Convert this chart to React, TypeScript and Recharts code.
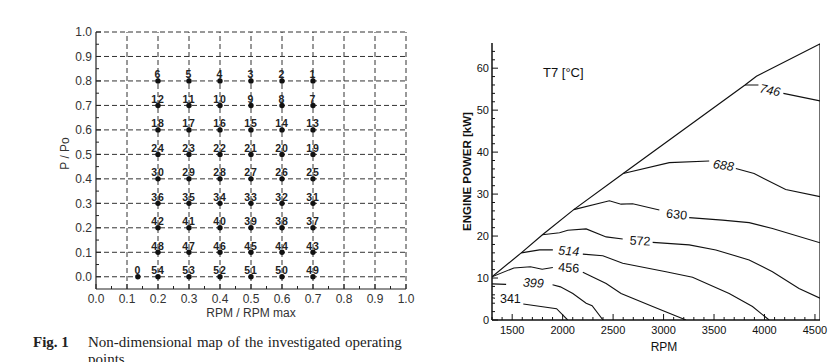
import React from "react";
import {
  ScatterChart,
  Scatter,
  ComposedChart,
  Line,
  XAxis,
  YAxis,
  ReferenceLine,
} from "recharts";

const sans = "'Liberation Sans', Arial, Helvetica, sans-serif";
const serif = "'Liberation Serif', 'Times New Roman', serif";

// ---------- Fig. 1 : non-dimensional map of operating points ----------
const speedRatio = [0.2, 0.3, 0.4, 0.5, 0.6, 0.7];
const powerRatio = [0.8, 0.7, 0.6, 0.5, 0.4, 0.3, 0.2, 0.1, 0.0];
// point numbers, one row per powerRatio, columns follow speedRatio
const pointNumbers = [
  [6, 5, 4, 3, 2, 1],
  [12, 11, 10, 9, 8, 7],
  [18, 17, 16, 15, 14, 13],
  [24, 23, 22, 21, 20, 19],
  [30, 29, 28, 27, 26, 25],
  [36, 35, 34, 33, 32, 31],
  [42, 41, 40, 39, 38, 37],
  [48, 47, 46, 45, 44, 43],
  [54, 53, 52, 51, 50, 49],
];
const idlePoint = { x: 0.135, y: 0.0, n: 0 };
const mapTicks = [0, 0.1, 0.2, 0.3, 0.4, 0.5, 0.6, 0.7, 0.8, 0.9, 1.0];

// ---------- T7 map ----------
const rpmTicks = [1500, 2000, 2500, 3000, 3500, 4000, 4500];
const powerTicks = [0, 10, 20, 30, 40, 50, 60];

// full-load envelope [rpm, kW]
const envelope = [
  [1300, 10.3], [1590, 16.0], [1800, 20.3], [2110, 26.3], [2600, 34.9],
  [3807, 56.0], [3920, 58.1], [4550, 65.8], [4550, 0],
];
// iso-T7 contours [rpm, kW]; null = gap where the level label sits
const t341 = [[1300, 5.3], [1330, 5.2], null, [1610, 3.8], [1940, 2.7], [2050, 0]];
const t399 = [[1300, 8.6], [1440, 8.5], null, [1900, 8.4], [1978, 7.9], [2101, 6.3], [2233, 4.0], [2292, 3.4], [2400, 0]];
const t456 = [[1300, 10.3], [1517, 12.4], [1681, 12.7], [1797, 12.1], [1903, 12.5], null, [2200, 11.4], [2431, 8.7], [2579, 6.3], [2892, 3.2], [3222, 0]];
const t514 = [[1590, 16.0], [1771, 16.7], [1903, 16.7], null, [2200, 15.7], [2398, 15.3], [2595, 13.5], [3024, 11.5], [3287, 10.2], [3650, 6.3], [3881, 3.2], [4046, 0]];
const t572 = [[1800, 20.3], [1969, 20.8], [2051, 21.4], [2233, 21.7], [2431, 19.8], [2595, 19.3], null, [2892, 18.5], [3254, 17.9], [3518, 16.7], [3848, 14.3], [4079, 11.5], [4342, 7.5], [4550, 5.2]];
const t630 = [[2110, 26.3], [2463, 28.4], [2579, 27.6], [2694, 27.7], [2958, 26.2], null, [3254, 24.4], [3584, 23.8], [3848, 23.2], [4079, 21.8], [4550, 18.4]];
const t688 = [[2600, 34.9], [3057, 37.5], [3452, 37.9], null, [3716, 36.1], [3897, 34.9], [4210, 31.1], [4550, 29.4]];
const t746 = [[3807, 56.0], [3940, 56.0], null, [4187, 54.0], [4550, 52.2]];

const contours = [t341, t399, t456, t514, t572, t630, t688, t746];
const levels = [341, 399, 456, 514, 572, 630, 688, 746];
const labelRpm = [1482, 1710, 2061, 2061, 2767, 3130, 3593, 4055];
const labelPower = [5.2, 8.9, 12.5, 16.5, 18.9, 25.2, 36.9, 54.8];
const labelAngle = [0, 4, 4, 4, 3, 6, 9, 12];
const labelItalic = [false, true, false, true, false, false, true, true];

const toRows = (pts: (number[] | null)[]) =>
  pts.map((p, i) => {
    if (p) return { rpm: p[0], p: p[1] };
    const a = pts[i - 1] as number[];
    const b = pts[i + 1] as number[];
    return { rpm: (a[0] + b[0]) / 2, p: null };
  });

const isMajor = (v: number, step: number) =>
  Math.abs(v / step - Math.round(v / step)) < 1e-6;

const minorTicks = (from: number, to: number, step: number) =>
  Array.from({ length: Math.round((to - from) / step) + 1 }, (_, i) =>
    Number((from + i * step).toFixed(4))
  );

// ticks are drawn inward, labels outside
const mapXTick = ({ x, y, payload }: any) => {
  const v = payload.value;
  const major = isMajor(v, 0.1);
  return (
    <g>
      <line x1={x} x2={x} y1={y} y2={y - (major ? 5 : 3)} stroke="#222" />
      {major && (
        <text x={x} y={y + 14} textAnchor="middle" fontSize={12} fill="#333" fontFamily={sans}>
          {v.toFixed(1)}
        </text>
      )}
    </g>
  );
};

const mapYTick = ({ x, y, payload }: any) => {
  const v = payload.value;
  const major = isMajor(v, 0.1);
  return (
    <g>
      <line x1={x} x2={x + (major ? 5 : 3)} y1={y} y2={y} stroke="#222" />
      {major && (
        <text x={x - 4} y={y} dy="0.36em" textAnchor="end" fontSize={12} fill="#333" fontFamily={sans}>
          {v.toFixed(1)}
        </text>
      )}
    </g>
  );
};

const rpmTick = ({ x, y, payload }: any) => {
  const v = payload.value;
  const major = rpmTicks.includes(v);
  return (
    <g>
      <line x1={x} x2={x} y1={y} y2={y - (major ? 6 : 3)} stroke="#111" />
      {major && (
        <text x={x} y={y + 13.5} textAnchor="middle" fontSize={11} fill="#111" fontFamily={sans}>
          {v}
        </text>
      )}
    </g>
  );
};

const powerTick = ({ x, y, payload }: any) => {
  const v = payload.value;
  const major = powerTicks.includes(v);
  return (
    <g>
      <line x1={x} x2={x + (major ? 6 : 3)} y1={y} y2={y} stroke="#111" />
      {major && (
        <text x={x - 3} y={y} dy="0.36em" textAnchor="end" fontSize={11} fill="#111" fontFamily={sans}>
          {v}
        </text>
      )}
    </g>
  );
};

const OperatingPoint = (props: any) => {
  const { cx, cy, payload } = props;
  return (
    <g>
      <circle cx={cx} cy={cy} r={2.7} fill="#111" />
      <text
        x={cx}
        y={cy - 2.5}
        textAnchor="middle"
        fontSize={10.5}
        fontWeight="bold"
        letterSpacing={1}
        fill="#222"
        fontFamily={sans}
      >
        {payload.n}
      </text>
    </g>
  );
};

const LevelLabel = (props: any) => {
  const { cx, cy, index } = props;
  return (
    <text
      x={cx}
      y={cy}
      dy="0.36em"
      textAnchor="middle"
      fontSize={12.5}
      fontStyle={labelItalic[index] ? "italic" : "normal"}
      fill="#111"
      fontFamily={sans}
      transform={`rotate(${labelAngle[index]}, ${cx}, ${cy})`}
    >
      {levels[index]}
    </text>
  );
};

const App: React.FC = () => {
  const points = powerRatio
    .flatMap((y, r) => speedRatio.map((x, c) => ({ x, y, n: pointNumbers[r][c] })))
    .concat([idlePoint]);

  const labelRows = levels.map((lv, i) => ({ rpm: labelRpm[i], p: labelPower[i], level: lv }));

  return (
    <div
      style={{
        position: "absolute",
        left: 0,
        top: 0,
        width: 833,
        height: 362,
        overflow: "hidden",
        background: "#fff",
      }}
    >
      <div style={{ position: "absolute", left: 0, top: 0 }}>
        <ScatterChart width={420} height={330} margin={{ top: 32, right: 14, bottom: 11, left: 0 }}>
          <XAxis
            type="number"
            dataKey="x"
            domain={[0, 1]}
            ticks={minorTicks(0, 1, 0.05)}
            interval={0}
            tickSize={0}
            tickMargin={0}
            tickLine={false}
            tick={mapXTick}
            height={30}
            axisLine={{ stroke: "#222", strokeWidth: 1.2 }}
            allowDataOverflow
            label={{
              content: ({ viewBox }: any) => (
                <text
                  x={viewBox.x + viewBox.width / 2}
                  y={viewBox.y + 28}
                  textAnchor="middle"
                  fontSize={12}
                  fill="#333"
                  fontFamily={sans}
                >
                  RPM / RPM max
                </text>
              ),
            }}
          />
          <YAxis
            type="number"
            dataKey="y"
            domain={[-0.05, 1]}
            ticks={minorTicks(0, 1, 0.05)}
            interval={0}
            tickSize={0}
            tickMargin={0}
            tickLine={false}
            tick={mapYTick}
            width={96}
            axisLine={{ stroke: "#222", strokeWidth: 1.2 }}
            allowDataOverflow
            label={{
              content: ({ viewBox }: any) => {
                const lx = viewBox.x + 65;
                const ly = viewBox.y + viewBox.height / 2 - 7;
                return (
                  <text
                    x={lx}
                    y={ly}
                    dy="0.36em"
                    textAnchor="middle"
                    fontSize={12}
                    fill="#333"
                    fontFamily={sans}
                    transform={`rotate(-90, ${lx}, ${ly})`}
                  >
                    P / Po
                  </text>
                );
              },
            }}
          />
          {mapTicks.map((v) => (
            <ReferenceLine key={`h${v}`} y={v} stroke="#333" strokeDasharray="5 3" />
          ))}
          {mapTicks.slice(1).map((v) => (
            <ReferenceLine key={`v${v}`} x={v} stroke="#333" strokeDasharray="5 3" />
          ))}
          <Scatter data={points} shape={OperatingPoint} isAnimationActive={false} />
        </ScatterChart>
      </div>

      <div style={{ position: "absolute", left: 440, top: 0 }}>
        <ComposedChart width={393} height={362} margin={{ top: 43, right: 13, bottom: 12, left: 0 }}>
          <XAxis
            type="number"
            dataKey="rpm"
            domain={[1300, 4550]}
            ticks={minorTicks(1300, 4500, 100)}
            interval={0}
            tickSize={0}
            tickMargin={0}
            tickLine={false}
            tick={rpmTick}
            height={30}
            axisLine={{ stroke: "#111", strokeWidth: 1.5 }}
            allowDataOverflow
            label={{
              content: ({ viewBox }: any) => (
                <text
                  x={viewBox.x + viewBox.width / 2 + 8}
                  y={viewBox.y + 31}
                  textAnchor="middle"
                  fontSize={12}
                  fill="#111"
                  fontFamily={sans}
                >
                  RPM
                </text>
              ),
            }}
          />
          <YAxis
            type="number"
            dataKey="p"
            domain={[0, 66]}
            ticks={minorTicks(0, 64, 2)}
            interval={0}
            tickSize={0}
            tickMargin={0}
            tickLine={false}
            tick={powerTick}
            width={52}
            axisLine={{ stroke: "#111", strokeWidth: 1.5 }}
            allowDataOverflow
            label={{
              content: ({ viewBox }: any) => {
                const lx = viewBox.x + 27;
                const ly = viewBox.y + viewBox.height / 2 - 10;
                return (
                  <text
                    x={lx}
                    y={ly}
                    dy="0.36em"
                    textAnchor="middle"
                    fontSize={11.5}
                    fontWeight="bold"
                    fill="#111"
                    fontFamily={sans}
                    transform={`rotate(-90, ${lx}, ${ly})`}
                  >
                    ENGINE POWER [kW]
                  </text>
                );
              },
            }}
          />
          <Line
            data={toRows(envelope)}
            dataKey="p"
            type="linear"
            stroke="#111"
            strokeWidth={1.2}
            dot={false}
            isAnimationActive={false}
          />
          {contours.map((c, i) => (
            <Line
              key={levels[i]}
              data={toRows(c)}
              dataKey="p"
              type="linear"
              stroke="#111"
              strokeWidth={1.1}
              dot={false}
              connectNulls={false}
              isAnimationActive={false}
            />
          ))}
          <Scatter data={labelRows} dataKey="p" shape={LevelLabel} isAnimationActive={false} />
        </ComposedChart>
        <div
          style={{
            position: "absolute",
            left: 103,
            top: 66,
            fontFamily: sans,
            fontSize: 13,
            lineHeight: "13px",
            color: "#111",
            whiteSpace: "nowrap",
          }}
        >
          T7 [°C]
        </div>
      </div>

      <div
        style={{
          position: "absolute",
          left: 33,
          top: 334,
          fontFamily: serif,
          fontSize: 15,
          lineHeight: "17px",
          color: "#222",
          whiteSpace: "nowrap",
          fontWeight: "bold",
        }}
      >
        Fig. 1
      </div>
      <div
        style={{
          position: "absolute",
          left: 88,
          top: 334,
          fontFamily: serif,
          fontSize: 15,
          lineHeight: "17px",
          wordSpacing: 1,
          color: "#222",
          whiteSpace: "nowrap",
        }}
      >
        Non-dimensional map of the investigated operating
        <br />
        points
      </div>
    </div>
  );
};

export default App;
